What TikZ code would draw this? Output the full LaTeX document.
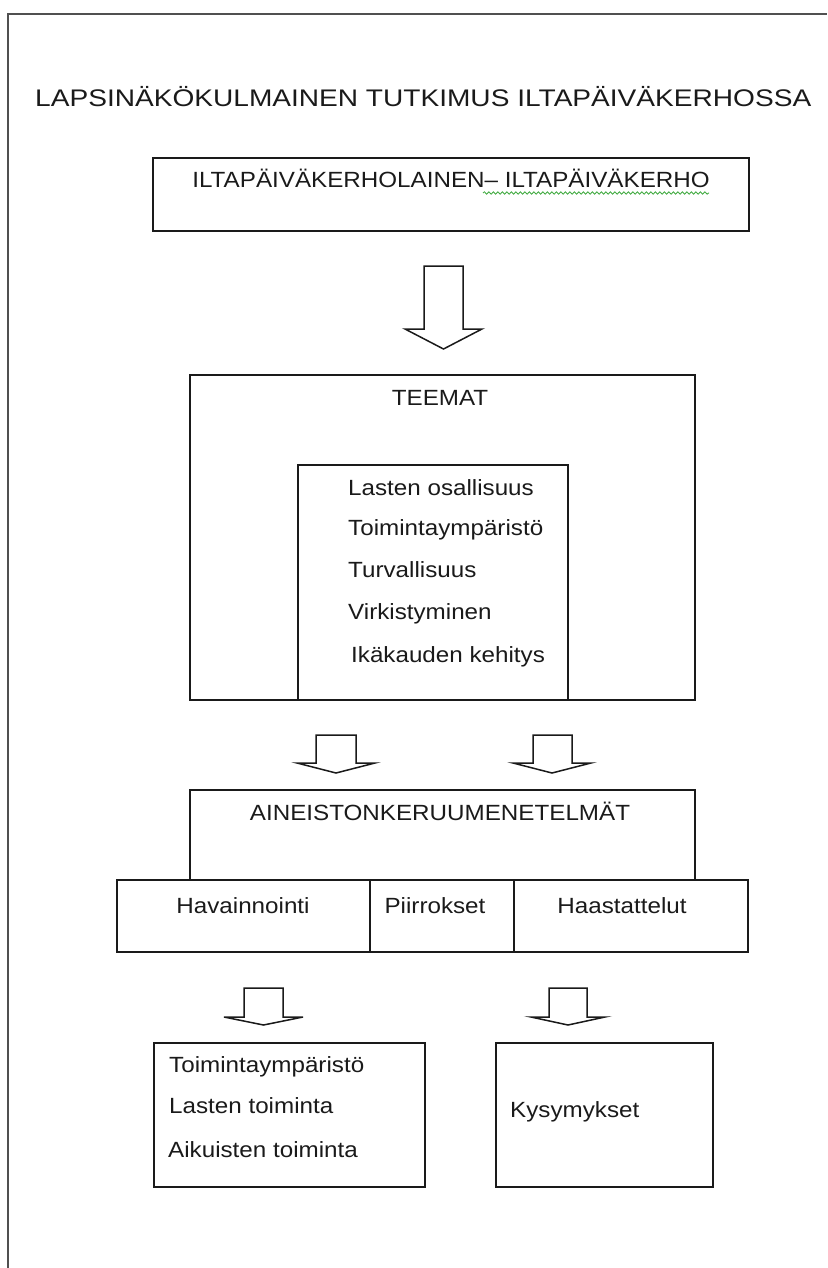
\documentclass[tikz,border=0pt]{standalone}
\usepackage{fontspec}
\setmainfont{Liberation Sans}
\usepackage{graphicx}
\usetikzlibrary{decorations.pathmorphing}
\definecolor{framegray}{HTML}{505050}
\definecolor{ink}{HTML}{1A1A1A}
\definecolor{spellgreen}{HTML}{3CA83C}
\newcommand{\wtxt}[1]{\scalebox{1.1}[1]{#1}}
\tikzset{
  box/.style={draw=ink, line width=1.6pt, inner sep=0pt, anchor=north west},
  lbl/.style={inner sep=0pt, font=\fontsize{22}{26}\selectfont, text=ink},
  blockarrow/.style={draw=ink, line width=1.5pt, fill=white, line join=miter},
  spell/.style={draw=spellgreen, line width=0.8pt, decorate, decoration={snake, amplitude=1.2pt, segment length=4.5pt}},
}
\begin{document}
\begin{tikzpicture}[x=1pt,y=-1pt]
\useasboundingbox (0,0) rectangle (827,1268);
% page frame
\draw[framegray, line width=2.5pt] (8,1268) -- (8,14) -- (827,14);

% title
\node[lbl, anchor=base west, font=\fontsize{24}{28}\selectfont] (title) at (35,107)
  {\scalebox{1.17}[1]{LAPSINÄKÖKULMAINEN TUTKIMUS ILTAPÄIVÄKERHOSSA}};

% top box
\node[box, minimum width=596pt, minimum height=73pt] (topbox) at (152,157) {};
\node[lbl, anchor=base] (toptext) at (451,187) {\wtxt{ILTAPÄIVÄKERHOLAINEN– ILTAPÄIVÄKERHO}};
\coordinate (sqa) at (483,193);
\coordinate (sqb) at (709,193);
\draw[spell] (sqa) -- (sqb);

% big arrow
\draw[blockarrow] (424,266) -- (463,266) -- (463,329) -- (482,329) -- (443.5,349) -- (405,329) -- (424,329) -- cycle;

% TEEMAT
\node[box, minimum width=505pt, minimum height=325pt] (teemat) at (189,374) {};
\node[lbl, anchor=base] (teematt) at (440,405) {\wtxt{TEEMAT}};
\node[box, minimum width=270pt, minimum height=235pt] (inner) at (297,464) {};
\node[lbl, anchor=base west] (i1) at (348,495.5) {\wtxt{Lasten osallisuus}};
\node[lbl, anchor=base west] (i2) at (348,535.5) {\wtxt{Toimintaympäristö}};
\node[lbl, anchor=base west] (i3) at (348,577.5) {\wtxt{Turvallisuus}};
\node[lbl, anchor=base west] (i4) at (348,619.5) {\wtxt{Virkistyminen}};
\node[lbl, anchor=base west] (i5) at (351,662.5) {\wtxt{Ikäkauden kehitys}};

% small arrows 1
\draw[blockarrow] (316,735) -- (356,735) -- (356,763) -- (375,763) -- (336,773) -- (297,763) -- (316,763) -- cycle;
\draw[blockarrow] (533,735) -- (572,735) -- (572,763) -- (591,763) -- (552,773) -- (513,763) -- (533,763) -- cycle;

% AINEISTONKERUUMENETELMAT
\node[box, minimum width=505pt, minimum height=90pt] (ainei) at (189,789) {};
\node[lbl, anchor=base] (aineit) at (440,820) {\wtxt{AINEISTONKERUUMENETELMÄT}};
\node[box, minimum width=253pt, minimum height=72pt] (hav) at (116,879) {};
\node[box, minimum width=144pt, minimum height=72pt] (piir) at (369,879) {};
\node[box, minimum width=234pt, minimum height=72pt] (haas) at (513,879) {};
\node[lbl, anchor=base] (havt) at (243,913) {\wtxt{Havainnointi}};
\node[lbl, anchor=base] (piirt) at (435,913) {\wtxt{Piirrokset}};
\node[lbl, anchor=base] (haast) at (622,913) {\wtxt{Haastattelut}};

% small arrows 2
\draw[blockarrow] (244,988) -- (283,988) -- (283,1017) -- (303,1017) -- (263.5,1025) -- (224,1017) -- (244,1017) -- cycle;
\draw[blockarrow] (549,988) -- (587,988) -- (587,1017) -- (605,1017) -- (568,1025) -- (531,1017) -- (549,1017) -- cycle;

% lower boxes
\node[box, minimum width=271pt, minimum height=144pt] (lowl) at (153,1042) {};
\node[lbl, anchor=base west] (l1) at (169,1072) {\wtxt{Toimintaympäristö}};
\node[lbl, anchor=base west] (l2) at (169,1113) {\wtxt{Lasten toiminta}};
\node[lbl, anchor=base west] (l3) at (168,1157) {\wtxt{Aikuisten toiminta}};
\node[box, minimum width=217pt, minimum height=144pt] (lowr) at (495,1042) {};
\node[lbl, anchor=base west] (r1) at (510,1117) {\wtxt{Kysymykset}};
\end{tikzpicture}
\end{document}
